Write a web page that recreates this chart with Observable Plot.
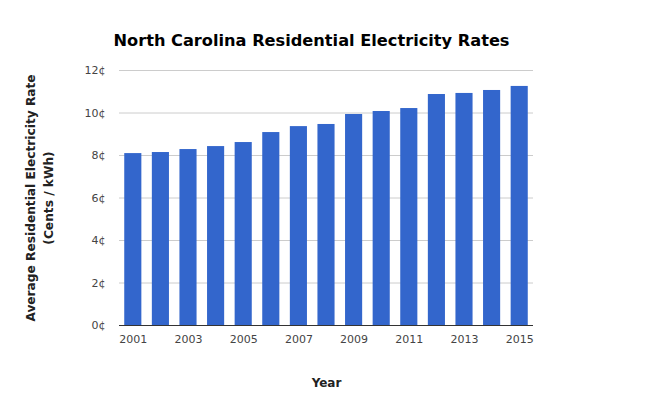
<!DOCTYPE html>
<html>
<head>
<meta charset="utf-8">
<script src="https://cdn.jsdelivr.net/npm/d3@7"></script>
<script src="https://cdn.jsdelivr.net/npm/@observablehq/plot@0.6"></script>
<style>
  html, body { margin: 0; padding: 0; background: #fff; }
</style>
</head>
<body>
<div id="chart"></div>
<script>
const title = "North Carolina Residential Electricity Rates";
const yTitle = "Average Residential Electricity Rate\n(Cents / kWh)";
const xTitle = "Year";
const years = [2001, 2002, 2003, 2004, 2005, 2006, 2007, 2008, 2009, 2010, 2011, 2012, 2013, 2014, 2015];
const rates = [8.09, 8.14, 8.28, 8.42, 8.61, 9.08, 9.36, 9.46, 9.93, 10.07, 10.21, 10.87, 10.92, 11.06, 11.25];
const yTicks = [0, 2, 4, 6, 8, 10, 12];
const xTickYears = [2001, 2003, 2005, 2007, 2009, 2011, 2013, 2015];

const data = years.map((year, i) => ({year, rate: rates[i]}));

const chart = Plot.plot({
  width: 650,
  height: 397,
  marginTop: 70,
  marginBottom: 72,
  marginLeft: 119,
  marginRight: 117,
  style: {fontFamily: "DejaVu Sans, Verdana, sans-serif", fontSize: "11px", color: "#444", background: "#fff"},
  x: {domain: years, paddingInner: 0.38, paddingOuter: 0.19, round: false, label: null},
  y: {domain: [0, 12], label: null},
  marks: [
    Plot.gridY(yTicks, {stroke: "#ccc", strokeOpacity: 1}),
    Plot.barY(data, {x: "year", y: "rate", fill: "#3366cc"}),
    Plot.ruleY([0], {stroke: "#333"}),
    Plot.axisX(xTickYears, {tickSize: 0, tickPadding: 10, tickFormat: d => String(d), fill: "#444", fontSize: 11}),
    Plot.axisY(yTicks, {tickSize: 0, tickPadding: 14, tickFormat: d => d + "¢", fill: "#444", fontSize: 11}),
    Plot.text([title], {frameAnchor: "top-left", textAnchor: "start", lineAnchor: "bottom", dx: -6, dy: -25, fontWeight: "bold", fontSize: 16.2, fill: "#000"}),
    Plot.text([yTitle], {frameAnchor: "left", textAnchor: "middle", lineAnchor: "middle", rotate: -90, dx: -81, fontWeight: "bold", fontSize: 12.2, fill: "#222", lineHeight: 1.45}),
    Plot.text([xTitle], {frameAnchor: "bottom", textAnchor: "middle", lineAnchor: "middle", dy: 58, fontWeight: "bold", fontSize: 12, fill: "#222"})
  ]
});
document.getElementById("chart").appendChild(chart);
</script>
</body>
</html>
